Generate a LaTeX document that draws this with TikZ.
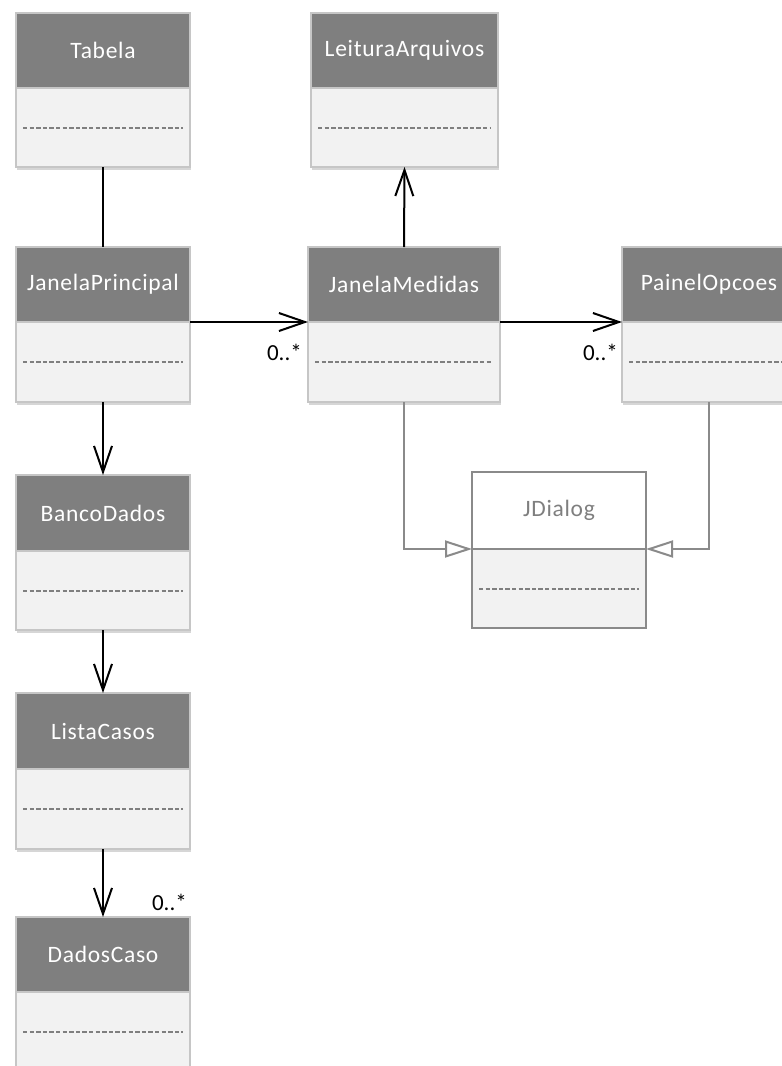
\documentclass[tikz,border=0pt]{standalone}
\usepackage{fontspec}
\setmainfont{Carlito}
\newfontfamily\labelfont[LetterSpace=3]{Carlito}
\usetikzlibrary{arrows.meta,shadows}

\definecolor{hdrfill}{HTML}{7F7F7F}
\definecolor{bodyfill}{HTML}{F2F2F2}
\definecolor{boxedge}{HTML}{C6C6C6}
\definecolor{sepgray}{HTML}{7F7F7F}
\definecolor{linkgray}{HTML}{8A8A8A}

\tikzset{
  boxshadow/.style={drop shadow={shadow xshift=1.2bp, shadow yshift=-2.5bp, opacity=0.16, fill=black}},
  classhead/.style={draw=boxedge, line width=1.5bp, fill=hdrfill, text=white,
    font=\labelfont\fontsize{23.5bp}{28bp}\selectfont, inner sep=0pt, outer sep=0pt,
    anchor=north west, boxshadow},
  classbody/.style={draw=boxedge, line width=1.5bp, fill=bodyfill,
    inner sep=0pt, outer sep=0pt, anchor=north, boxshadow},
  sepline/.style={draw=sepgray, line width=2bp, dash pattern=on 4.4bp off 2.2bp},
  plainlink/.style={draw=black, line width=2bp},
  assoc/.style={plainlink, -{Straight Barb[length=26bp, width=18bp]}},
  inherit/.style={draw=linkgray, line width=2bp,
    -{Triangle[open, length=27bp, width=17bp, fill=white]}},
  mult/.style={font=\fontsize{23bp}{28bp}\selectfont, inner sep=0pt, anchor=base east},
}

% name, label, left x, top y, width, header height, body height
\newcommand\umlclass[7]{%
  \node[classhead, minimum width=#5bp, minimum height=#6bp] (#1) at (#3,#4) {#2};
  \node[classbody, minimum width=#5bp, minimum height=#7bp] (#1c) at (#1.south) {};
  \draw[sepline] ([xshift=7bp]#1c.west) -- ([xshift=-7bp]#1c.east);
}

\begin{document}
\begin{tikzpicture}[x=1bp, y=-1bp]
  \clip (0,0) rectangle (782,1066);
  \fill[white] (0,0) rectangle (782,1066);

  \umlclass{tab}{Tabela}{16}{13}{174}{75}{79}
  \umlclass{la}{LeituraArquivos}{311}{13}{187}{75}{79}
  \umlclass{jp}{JanelaPrincipal}{16}{247}{174}{75}{80}
  \umlclass{jm}{JanelaMedidas}{308}{247}{192}{75}{80}
  \umlclass{po}{PainelOpcoes}{622}{247}{174}{75}{80}
  \umlclass{bd}{BancoDados}{16}{475}{174}{76}{79}
  \umlclass{lc}{ListaCasos}{16}{693}{174}{76}{80}
  \umlclass{dc}{DadosCaso}{16}{917}{174}{75}{80}

  % JDialog: library class, drawn in outline only
  \node[draw=linkgray, line width=1.8bp, fill=white, text=hdrfill,
    font=\labelfont\fontsize{23.5bp}{28bp}\selectfont, inner sep=0pt, outer sep=0pt,
    anchor=north west, minimum width=174bp, minimum height=77bp] (jd) at (472,472) {JDialog};
  \node[draw=linkgray, line width=1.8bp, fill=bodyfill, inner sep=0pt, outer sep=0pt,
    anchor=north, minimum width=174bp, minimum height=79bp] (jdc) at (jd.south) {};
  \draw[sepline] ([xshift=7bp]jdc.west) -- ([xshift=-7bp]jdc.east);

  % associations
  \draw[plainlink] (tabc.south) -- (jp.north);
  \draw[assoc] (jm.north) -- (lac.south);
  \draw[assoc] (jp.south east) -- (jm.south west);
  \draw[assoc] (jm.south east) -- (po.south west);
  \draw[assoc] (jpc.south) -- (bd.north);
  \draw[assoc] (bdc.south) -- (lc.north);
  \draw[assoc] (lcc.south) -- (dc.north);

  % generalizations
  \draw[inherit] (jmc.south) |- (jd.south west);
  \draw[inherit] (poc.south) |- (jd.south east);

  % multiplicities
  \node[mult] (m1) at ([shift={(-6,38)}]jm.south west) {0..*};
  \node[mult] (m2) at ([shift={(-4,38)}]po.south west) {0..*};
  \node[mult] (m3) at ([shift={(-3,-7)}]dc.north east) {0..*};
\end{tikzpicture}
\end{document}
